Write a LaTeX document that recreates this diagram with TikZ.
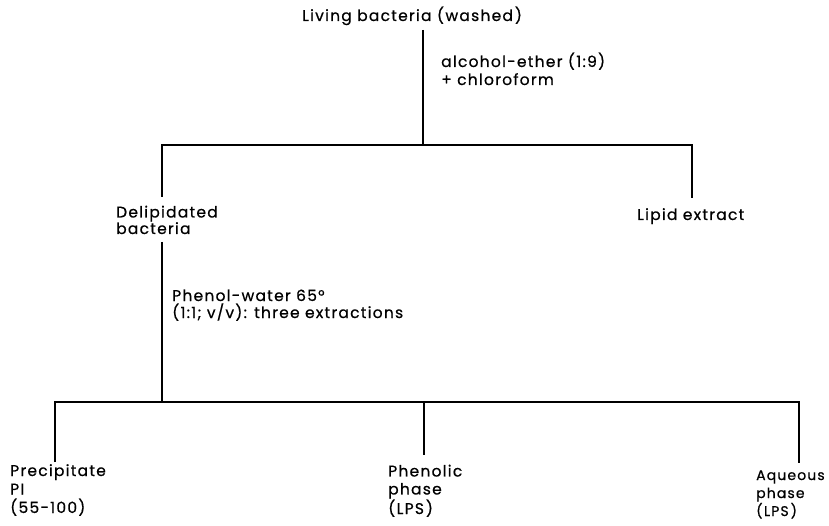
\documentclass[tikz,border=0pt]{standalone}
\usepackage{fontspec}
\setmainfont{Poppins}[LetterSpace=8,FakeBold=0.6]
\newcommand{\lp}{(\kern1.5pt}
\newcommand{\rp}{\kern2pt)}
\begin{document}
\begin{tikzpicture}[x=1pt,y=-1pt,
  lbl/.style={inner sep=0pt,anchor=base west,align=left,font=\fontsize{15.5}{#1}\selectfont},
  lbl/.default=18,
  lblsm/.style={inner sep=0pt,anchor=base west,align=left,font=\fontsize{14}{18}\selectfont},
  ln/.style={line width=1.4pt}]
\useasboundingbox[fill=white] (0,0) rectangle (829,526);
% texts (anchor = baseline of last line)
\node[lbl] (top) at (302,21) {Living bacteria \lp washed\rp};
\node[lbl=18] (lab1) at (441,85) {alcohol-ether \lp 1:9)\\+ chloroform};
\node[lbl=16.5] (del) at (116,234) {Delipidated\\bacteria};
\node[lbl] (lipid) at (637,220) {Lipid extract};
\node[lbl=17] (lab2) at (172,318) {Phenol-water 65°\\(1:1; v/v): three extractions};
\node[lbl=18.5] (prec) at (10,513) {Precipitate\\PI\\(55-100)};
\node[lbl=18] (phen) at (388,514) {Phenolic\\phase\\\lp LPS\rp};
\node[lblsm] (aq) at (756,516) {Aqueous\\phase\\\lp LPS\rp};
% junction points
\coordinate (t0) at (423,30);
\coordinate (j1) at (423,145);
\coordinate (l1) at (162,145);
\coordinate (r1) at (692,145);
\coordinate (l1e) at (162,197);
\coordinate (r1e) at (692,198);
\coordinate (d0) at (162,242);
\coordinate (j2) at (162,402);
\coordinate (l2) at (55,402);
\coordinate (r2) at (799,402);
\coordinate (m2) at (424,402);
\coordinate (l2e) at (55,462);
\coordinate (m2e) at (424,455);
\coordinate (r2e) at (799,463);
% connectors
\draw[ln] (t0) -- (j1);
\draw[ln] (l1e) -- (l1) -- (r1) -- (r1e);
\draw[ln] (d0) -- (j2);
\draw[ln] (l2e) -- (l2) -- (r2) -- (r2e);
\draw[ln] (m2) -- (m2e);
\end{tikzpicture}
\end{document}
